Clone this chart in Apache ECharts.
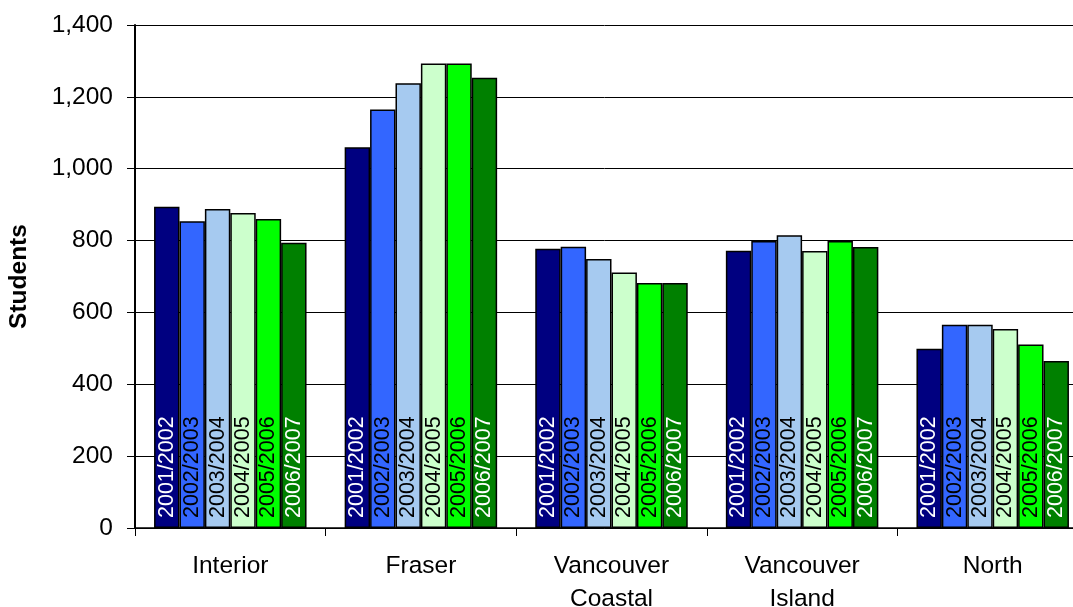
<!DOCTYPE html>
<html>
<head>
<meta charset="utf-8">
<script src="https://cdn.jsdelivr.net/npm/echarts@6/dist/echarts.min.js"></script>
<style>
html,body{margin:0;padding:0;background:#fff;}
#chart{width:1073px;height:607px;}
</style>
</head>
<body>
<div id="chart"></div>
<script>
var categories = ['Interior', 'Fraser', 'Vancouver\nCoastal', 'Vancouver\nIsland', 'North'];
var years = ['2001/2002', '2002/2003', '2003/2004', '2004/2005', '2005/2006', '2006/2007'];
var v2001 = [894, 1060, 777, 772, 499];
var v2002 = [854, 1165, 783, 799, 566];
var v2003 = [888, 1238, 749, 815, 566];
var v2004 = [877, 1293, 711, 771, 554];
var v2005 = [860, 1293, 682, 799, 511];
var v2006 = [794, 1253, 682, 782, 465];
var yTicks = [0, 200, 400, 600, 800, 1000, 1200, 1400];

var seriesValues = [v2001, v2002, v2003, v2004, v2005, v2006];
var colors = ['#000080', '#3366FF', '#A6CAF0', '#CCFFCC', '#00FF00', '#008000'];
var labelColors = ['#ffffff', '#000000', '#000000', '#000000', '#000000', '#ffffff'];
var font = '"Liberation Sans", Arial, sans-serif';

var chart = echarts.init(document.getElementById('chart'), null, {renderer: 'canvas'});
var series = years.map(function (y, i) {
  return {
    name: y,
    type: 'bar',
    data: seriesValues[i],
    barGap: '0%',
    barCategoryGap: '20%',
    itemStyle: {color: colors[i], borderColor: '#000', borderWidth: 1.5},
    label: {
      show: true,
      position: 'insideBottom',
      rotate: 90,
      align: 'left',
      verticalAlign: 'middle',
      distance: 10,
      formatter: function (p) { return p.seriesName; },
      color: labelColors[i],
      fontFamily: font,
      fontSize: 21.5
    },
    emphasis: {disabled: true},
    animation: false
  };
});

chart.setOption({
  animation: false,
  backgroundColor: '#fff',
  grid: {left: 135, top: 25, right: -15, bottom: 79, containLabel: false, outerBoundsMode: 'none'},
  xAxis: {
    type: 'category',
    data: categories,
    axisLine: {lineStyle: {color: '#000', width: 1.5}},
    axisTick: {show: true, length: 8, lineStyle: {color: '#000', width: 1}},
    axisLabel: {color: '#000', fontFamily: font, fontSize: 24.5, margin: 22, lineHeight: 33, interval: 0}
  },
  yAxis: {
    type: 'value',
    min: yTicks[0],
    max: yTicks[yTicks.length - 1],
    interval: 200,
    name: 'Students',
    nameLocation: 'middle',
    nameGap: 103,
    nameRotate: 90,
    nameTextStyle: {color: '#000', fontFamily: font, fontSize: 24.5, fontWeight: 'bold'},
    axisLine: {show: true, lineStyle: {color: '#000', width: 2}},
    axisTick: {show: true, length: 8, lineStyle: {color: '#000', width: 1}},
    axisLabel: {
      color: '#000', fontFamily: font, fontSize: 24.5, margin: 22,
      formatter: function (v) { return v.toLocaleString('en-US'); }
    },
    splitLine: {show: true, lineStyle: {color: '#000', width: 1}}
  },
  series: series
});
</script>
</body>
</html>
